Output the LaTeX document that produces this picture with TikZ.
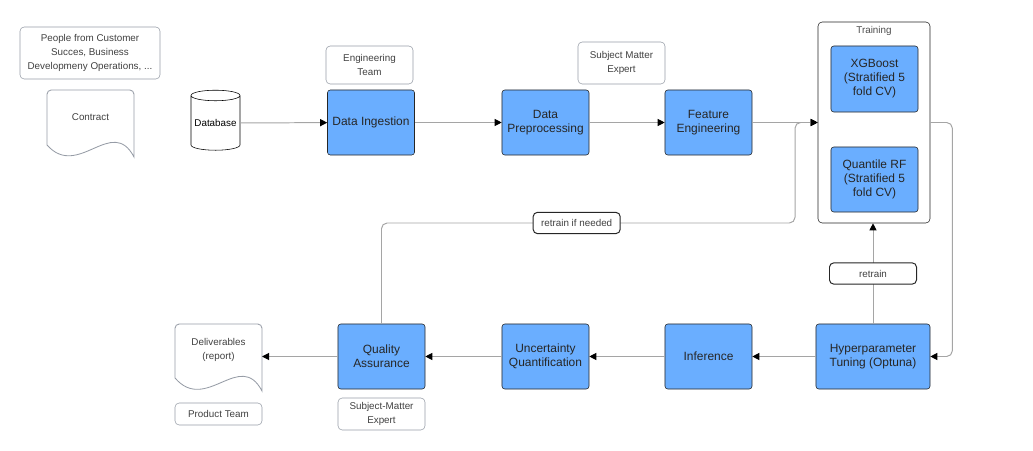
\documentclass[tikz,border=0pt]{standalone}
\usepackage{fontspec}
\setmainfont{Liberation Sans}
\usepackage{tikz}
\usetikzlibrary{shapes.geometric,arrows.meta,positioning,calc}
\definecolor{stageblue}{RGB}{106,174,255}
\definecolor{linegray}{RGB}{165,165,165}
\definecolor{tagedge}{RGB}{150,156,166}
\newcommand{\stagefont}{\fontsize{8.5}{10}\selectfont}
\newcommand{\tagfont}{\fontsize{7}{10}\selectfont}
\tikzset{
  stage/.style={rectangle, draw=black!85, fill=stageblue, rounded corners=2pt, minimum width=2.175cm, minimum height=1.625cm, align=center, font=\stagefont, text=black!85, inner sep=1pt},
  tag/.style={rectangle, draw=tagedge, rounded corners=3pt, minimum width=2.175cm, align=center, font=\tagfont, text=black!75, inner sep=1pt},
  note/.style={rectangle, draw=black!85, fill=white, rounded corners=3pt, minimum width=2.175cm, minimum height=0.53cm, font=\tagfont, text=black!75, inner sep=1pt},
  doc/.style={draw=tagedge, line width=0.6pt},
  arrow/.style={draw=linegray, line width=0.7pt, -{Triangle[length=5pt, width=5pt, color=black]}},
}

\begin{document}
\begin{tikzpicture}[x=0.025cm, y=-0.025cm]
  \useasboundingbox (0,0) rectangle (1033,451);

  % People and contract
  \node[tag, minimum width=3.5cm, minimum height=1.3cm] (people) at (90,53) {People from Customer\\Succes, Business\\Developmeny Operations, ...};
  \draw[doc, shift={(47,90)}] (0,55) [rounded corners=3pt] -- (0,0) -- (87,0) [sharp corners] -- (87,67) .. controls (65,25) and (31,90) .. (0,55);
  \node[font=\tagfont, text=black!75] (contract) at (90.5,117) {Contract};

  % Database
  \node[cylinder, shape border rotate=90, draw, aspect=0.25, minimum width=1.225cm, minimum height=1.5cm, font=\tagfont, inner sep=0pt] (db) at (215.5,123) {Database};

  % Upper row
  \node[stage] (ingest) at (371,122.5) {Data Ingestion};
  \node[tag, minimum height=0.95cm] (engteam) at (369.5,65) {Engineering\\Team};
  \node[stage] (prep) at (545.5,122.5) {Data\\Preprocessing};
  \node[tag, minimum height=1.05cm] (sme) at (621.5,63) {Subject Matter\\Expert};
  \node[stage] (feat) at (708.5,122.5) {Feature\\Engineering};

  % Training
  \node[rectangle, draw=black!85, rounded corners=3pt, minimum width=2.8cm, minimum height=5.025cm] (train) at (874,122.5) {};
  \node[font=\tagfont, text=black!70] (trainlbl) at (874,31) {Training};
  \node[stage, minimum height=1.65cm] (xgb) at (874.5,79) {XGBoost\\(Stratified 5\\fold CV)};
  \node[stage] (qrf) at (874.5,179.5) {Quantile RF\\(Stratified 5\\fold CV)};

  % Lower row
  \node[stage, minimum width=2.85cm] (hyper) at (873,356.5) {Hyperparameter\\Tuning (Optuna)};
  \node[stage] (infer) at (708.5,356.5) {Inference};
  \node[stage] (unc) at (545.5,356.5) {Uncertainty\\Quantification};
  \node[stage] (qa) at (381.5,356.5) {Quality\\Assurance};
  \node[tag, minimum height=0.8cm] (sme2) at (381.5,414) {Subject-Matter\\Expert};

  % Deliverables
  \draw[doc, shift={(175,324)}] (0,54) [rounded corners=3pt] -- (0,0) -- (87,0) [sharp corners] -- (87,67) .. controls (65,25) and (31,90) .. (0,54);
  \node[font=\tagfont, text=black!75, align=center] (deliv) at (218.5,350) {Deliverables\\(report)};
  \node[tag, minimum height=0.55cm] (product) at (218.5,414) {Product Team};

  % Connections
  \coordinate (merge) at (795,223);
  \draw[arrow] (db) -- (ingest);
  \draw[arrow] (ingest) -- (prep);
  \draw[arrow] (prep) -- (feat);
  \draw[arrow] (feat) -- (train);
  \draw[arrow, rounded corners=4pt] (qa.north) |- node[note, pos=0.736] {retrain if needed} (merge) |- (train.west);
  \draw[arrow, rounded corners=4pt] (train.east) -- ++(22,0) |- (hyper.east);
  \draw[arrow] (hyper.north) -- node[note] {retrain} (hyper.north |- train.south);
  \draw[arrow] (hyper) -- (infer);
  \draw[arrow] (infer) -- (unc);
  \draw[arrow] (unc) -- (qa);
  \draw[arrow] (qa.west) -- (262,356.5);
\end{tikzpicture}
\end{document}
